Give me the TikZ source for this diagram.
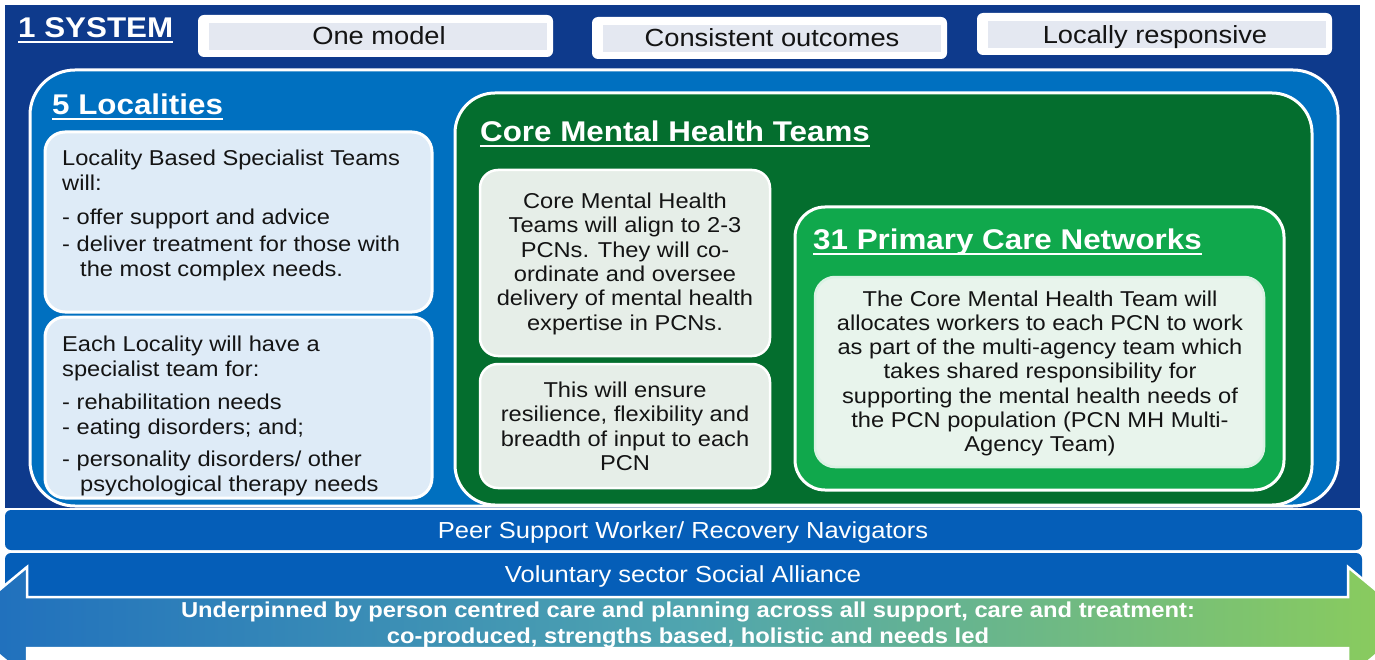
\documentclass[tikz,border=0pt]{standalone}
\usepackage{fontspec}
\setmainfont{Liberation Sans}[FakeStretch=1.1]
\definecolor{navy}{RGB}{14,58,140}
\definecolor{iblue}{RGB}{0,112,192}
\definecolor{band}{RGB}{5,94,184}
\definecolor{dgreen}{RGB}{4,110,46}
\definecolor{lgreen}{RGB}{16,168,76}
\definecolor{lblue}{RGB}{222,235,247}
\definecolor{cmfill}{RGB}{230,238,232}
\definecolor{pcnfill}{RGB}{232,244,236}
\definecolor{lgrey}{RGB}{228,232,241}
\definecolor{txt}{RGB}{20,20,20}
\definecolor{arrL}{RGB}{30,110,190}
\definecolor{arrM}{RGB}{80,165,175}
\definecolor{arrR}{RGB}{140,205,90}
\newcommand{\tstrut}{\rule{0pt}{17pt}}
\tikzset{
  wbox/.style={draw=white, line width=3pt},
  hdr/.style={text=white, font=\fontsize{28.5}{30}\selectfont\bfseries, inner sep=0pt, anchor=base west},
  ul/.style={draw=white, line width=2.3pt},
  body/.style={text=txt, font=\fontsize{21.5}{25}\selectfont, inner sep=0pt, align=left},
  bodyc/.style={text=txt, font=\fontsize{21.5}{24.4}\selectfont, inner sep=0pt, align=center, anchor=north},
  toplab/.style={text=txt, font=\fontsize{24.8}{26}\selectfont, inner sep=0pt, anchor=base},
  bandtxt/.style={text=white, font=\fontsize{23.2}{25}\selectfont, inner sep=0pt, anchor=base},
}
\begin{document}
\begin{tikzpicture}[x=1pt,y=-1pt]
\useasboundingbox (0,0) rectangle (1375,660);
\clip (0,0) rectangle (1375,660);
\fill[white] (0,0) rectangle (1375,660);
% outer system box
\fill[navy] (5,5) rectangle (1360,508);
% top labels
\fill[white, rounded corners=6pt] (198,15) rectangle (553,57);
\fill[lgrey] (209,23) rectangle (547,50);
\fill[white, rounded corners=6pt] (592,17) rectangle (947,59);
\fill[lgrey] (603,25) rectangle (941,52);
\fill[white, rounded corners=6pt] (977,13) rectangle (1332,55);
\fill[lgrey] (988,21) rectangle (1326,48);
\node[toplab] (om) at (379,45) {One model};
\node[toplab] (co) at (772,47) {Consistent outcomes};
\node[toplab] (lr) at (1155,44) {Locally responsive};
\node[hdr] (sys) at (18,38) {1 SYSTEM};
\draw[ul] ([yshift=-4pt]sys.base west) -- ([yshift=-4pt]sys.base east);
% localities box
\draw[wbox, fill=iblue, rounded corners=45pt] (30,70) rectangle (1338,506);
\node[hdr] (loc) at (52,115) {5 Localities};
\draw[ul] ([yshift=-4pt]loc.base west) -- ([yshift=-4pt]loc.base east);
\draw[wbox, fill=lblue, rounded corners=20pt] (45,132) rectangle (432,312);
\draw[wbox, fill=lblue, rounded corners=20pt] (45,317) rectangle (432,498);
\node[body, anchor=north west] (l1) at (62,148) {\tstrut Locality Based Specialist Teams\\ will:\\[9pt] - offer support and advice\\[2pt] - deliver treatment for those with\\ \hspace*{18pt}the most complex needs.};
\node[body, anchor=north west] (l2) at (62,334) {\tstrut Each Locality will have a\\ specialist team for:\\[8pt] - rehabilitation needs\\ - eating disorders; and;\\[7pt] - personality disorders/ other\\ \hspace*{18pt}psychological therapy needs};
% core mental health teams
\draw[wbox, fill=dgreen, rounded corners=40pt] (455,93) rectangle (1312,505);
\node[hdr] (cmht) at (480,142) {Core Mental Health Teams};
\draw[ul] ([yshift=-4pt]cmht.base west) -- ([yshift=-4pt]cmht.base east);
\draw[wbox, line width=2.5pt, fill=cmfill, rounded corners=18pt] (480,170) rectangle (770,356);
\draw[wbox, line width=2.5pt, fill=cmfill, rounded corners=18pt] (480,364) rectangle (770,488);
\node[bodyc] (c1) at (625,191) {\tstrut Core Mental Health\\ Teams will align to 2-3\\ PCNs. They will co-\\ ordinate and oversee\\ delivery of mental health\\ expertise in PCNs.};
\node[bodyc] (c2) at (625,380) {\tstrut This will ensure\\ resilience, flexibility and\\ breadth of input to each\\ PCN};
% primary care networks
\draw[wbox, fill=lgreen, rounded corners=30pt] (795,207) rectangle (1284,490);
\node[hdr] (pcn) at (813,250) {31 Primary Care Networks};
\draw[ul] ([yshift=-4pt]pcn.base west) -- ([yshift=-4pt]pcn.base east);
\draw[wbox, line width=2.5pt, draw=white!85!lgreen, fill=pcnfill, rounded corners=20pt] (815,277) rectangle (1264,467);
\node[bodyc, font=\fontsize{21.5}{24.2}\selectfont] (p1) at (1040,289) {\tstrut The Core Mental Health Team will\\ allocates workers to each PCN to work\\ as part of the multi-agency team which\\ takes shared responsibility for\\ supporting the mental health needs of\\ the PCN population (PCN MH Multi-\\ Agency Team)};
% bands
\fill[band, rounded corners=6pt] (5,510) rectangle (1362,550);
\node[bandtxt] (peer) at (683,538) {Peer Support Worker/ Recovery Navigators};
\fill[band, rounded corners=6pt] (5,553) rectangle (1362,610);
\node[bandtxt] (vol) at (683,582) {Voluntary sector Social Alliance};
% underpinning arrow
\path[left color=arrL, right color=arrR, middle color=arrM, draw=white, line width=2.5pt, line join=miter]
  (-40,622.5) -- (27,567) -- (27,597) -- (1348,597) -- (1348,567) -- (1415,622.5)
  -- (1348,678) -- (1348,648) -- (27,648) -- (27,678) -- cycle;
\node[text=white, font=\fontsize{21.6}{26}\selectfont\bfseries, inner sep=0pt, align=center, anchor=north] (und) at (688,601) {\rule{0pt}{16.5pt}Underpinned by person centred care and planning across all support, care and treatment:\\ co-produced, strengths based, holistic and needs led};
\end{tikzpicture}
\end{document}
